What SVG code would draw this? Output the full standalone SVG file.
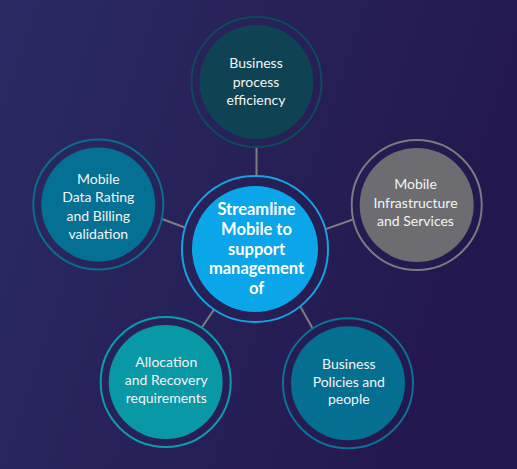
<svg xmlns="http://www.w3.org/2000/svg" width="517" height="469" viewBox="0 0 517 469">
<defs>
<linearGradient id="bg" x1="0" y1="0" x2="1" y2="0.3">
<stop offset="0" stop-color="#2a2b62"/>
<stop offset="1" stop-color="#23184d"/>
</linearGradient>
<style>
.ring{fill:none;stroke-width:2}
.lbl{font-family:Lato,"Noto Sans",sans-serif;font-size:14px;fill:#f4f4f4;text-anchor:middle}
.ctr{font-family:Lato,"Noto Sans",sans-serif;font-size:16.5px;font-weight:bold;fill:#ffffff;text-anchor:middle}
.conn line{stroke:#7e7e82;stroke-width:2}
</style>
</defs>
<rect width="517" height="469" fill="url(#bg)"/>
<g id="connectors" class="conn">
<line x1="256.5" y1="147" x2="256.5" y2="176"/>
<line x1="162" y1="219" x2="185" y2="227.5"/>
<line x1="325" y1="229.4" x2="353.5" y2="219.3"/>
<line x1="214.2" y1="309.3" x2="201.5" y2="328"/>
<line x1="300" y1="306" x2="313" y2="329"/>
</g>
<g id="node-center">
<circle class="ring" cx="255" cy="249" r="73" stroke="#14a2e2"/>
<circle cx="255" cy="249" r="63" fill="#0aa6e9"/>
<text class="ctr" x="256.5" y="215">Streamline</text>
<text class="ctr" x="256.5" y="234.8">Mobile to</text>
<text class="ctr" x="256.5" y="254.6">support</text>
<text class="ctr" x="256.5" y="274.4">management</text>
<text class="ctr" x="256.5" y="294.2">of</text>
</g>
<g id="node-top">
<circle class="ring" cx="256.5" cy="82" r="65" stroke="#0e4a5b"/>
<circle cx="256.5" cy="82" r="57" fill="#0d4353"/>
<text class="lbl" x="256" y="68">Business</text>
<text class="lbl" x="256" y="86.7">process</text>
<text class="lbl" x="256" y="105.4">efficiency</text>
</g>
<g id="node-left">
<circle class="ring" cx="98.3" cy="204.5" r="65" stroke="#0a6d8e"/>
<circle cx="98.3" cy="204.5" r="57" fill="#047093"/>
<text class="lbl" x="98.3" y="183.5">Mobile</text>
<text class="lbl" x="98.3" y="202">Data Rating</text>
<text class="lbl" x="98.3" y="220.5">and Billing</text>
<text class="lbl" x="98.3" y="239">validation</text>
</g>
<g id="node-right">
<circle class="ring" cx="416.7" cy="205" r="65" stroke="#7a7a80"/>
<circle cx="416.7" cy="205" r="57" fill="#6d6d71"/>
<text class="lbl" x="415.5" y="189.3">Mobile</text>
<text class="lbl" x="415.5" y="207.6">Infrastructure</text>
<text class="lbl" x="415.5" y="225.9">and Services</text>
</g>
<g id="node-bottom-left">
<circle class="ring" cx="165.7" cy="382" r="65" stroke="#0a9ead"/>
<circle cx="165.7" cy="382" r="57" fill="#0898a6"/>
<text class="lbl" x="166.3" y="366.7">Allocation</text>
<text class="lbl" x="166.3" y="385">and Recovery</text>
<text class="lbl" x="166.3" y="403.2">requirements</text>
</g>
<g id="node-bottom-right">
<circle class="ring" cx="348" cy="383.3" r="65" stroke="#0a7294"/>
<circle cx="348" cy="383.3" r="57" fill="#046f91"/>
<text class="lbl" x="348.8" y="369">Business</text>
<text class="lbl" x="348.8" y="386.7">Policies and</text>
<text class="lbl" x="348.8" y="404.4">people</text>
</g>
</svg>
